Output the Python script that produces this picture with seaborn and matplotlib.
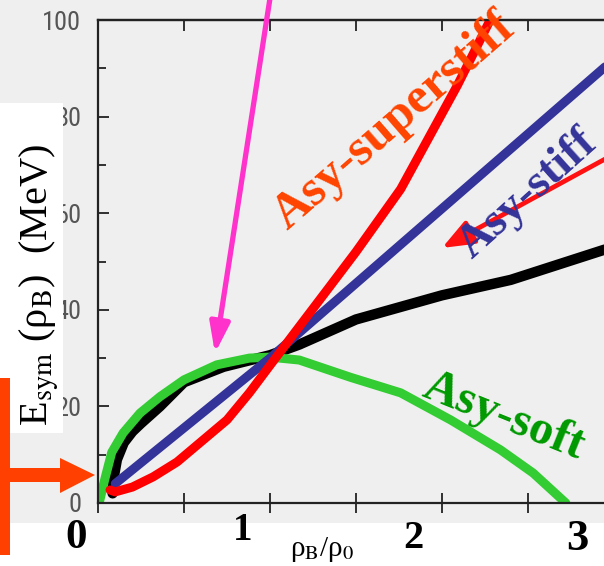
import numpy as np
import pandas as pd
import matplotlib
matplotlib.use("Agg")
import matplotlib.pyplot as plt
import seaborn as sns
from matplotlib.patches import Rectangle, Polygon
from matplotlib.ticker import MultipleLocator

# ---------------- data ----------------
rho_black = [0.085, 0.09, 0.11, 0.15, 0.20, 0.25, 0.36, 0.50, 0.73, 1.00, 1.17, 1.50, 2.00, 2.40, 2.94, 3.10]
E_black   = [2.0,   5.0,  9.0,  12.5, 14.8, 16.5, 20.0, 25.0, 28.2, 30.6, 32.8, 38.0, 43.0, 46.2, 52.4, 54.0]

rho_blue = [0.10, 1.00, 3.10]
E_blue   = [4.0,  30.0, 95.0]

rho_red = [0.07, 0.10, 0.20, 0.32, 0.46, 0.59, 0.75, 0.88, 1.00, 1.17, 1.33, 1.50, 1.76, 2.09, 2.28]
E_red   = [2.7,  2.3,  3.3,  5.4,  8.5,  12.4, 17.2, 22.8, 28.5, 36.5, 44.0, 52.0, 65.0, 86.5, 100.0]

rho_green = [0.01, 0.04, 0.08, 0.146, 0.244, 0.36, 0.50, 0.69, 0.88, 1.00, 1.17, 1.47, 1.76, 2.05, 2.34, 2.53, 2.72]
E_green   = [0.5,  5.0,  10.5, 14.5,  18.6,  22.0, 25.5, 28.6, 30.0, 30.2, 29.6, 26.0, 22.8, 17.2, 11.0, 6.2,  0.0]

ytick_values = [0, 20, 40, 60, 80, 100]
ytick_labels = ["0", "20", "40", "60", "80", "100"]
x_labels = ["0", "1", "2", "3"]
curve_labels = ["Asy-superstiff", "Asy-stiff", "Asy-soft"]

# ---------------- style ----------------
sns.set_theme(style="ticks")
plt.rcParams["font.family"] = ["Liberation Serif", "DejaVu Serif"]
plt.rcParams["mathtext.fontset"] = "stix"

BG = "#efefef"
W, H = 604, 566
fig = plt.figure(figsize=(W / 100, H / 100), dpi=100, facecolor=BG)


def fx(px):
    return px / W


def fy(py):
    return 1 - py / H


PX_PER_X = 172.0
XMAX = 3.1
ax = fig.add_axes([fx(98), fy(503), XMAX * PX_PER_X / W, 483 / H])
ax.set_facecolor(BG)

df_black = pd.DataFrame({"rho": rho_black, "E": E_black})
df_blue = pd.DataFrame({"rho": rho_blue, "E": E_blue})
df_red = pd.DataFrame({"rho": rho_red, "E": E_red})
df_green = pd.DataFrame({"rho": rho_green, "E": E_green})

common = dict(x="rho", y="E", ax=ax, estimator=None, legend=False,
              solid_joinstyle="round", solid_capstyle="round")
sns.lineplot(data=df_black, color="black", linewidth=7.5, **common)
sns.lineplot(data=df_green, color="#33cc33", linewidth=6.5, **common)
sns.lineplot(data=df_blue, color="#333399", linewidth=6.5, **common)
sns.lineplot(data=df_red, color="#ff0000", linewidth=6.5, **common)

ax.set_xlim(0, XMAX)
ax.set_ylim(0, 100)
ax.set_xlabel("")
ax.set_ylabel("")

# ticks
ax.set_xticks(np.arange(0, 3.01, 0.5))
ax.tick_params(axis="x", direction="inout", length=14, width=1.3, color="#222222",
               labelbottom=False, top=False)
sec = ax.secondary_xaxis("top")
sec.set_xticks(np.arange(0, 3.01, 0.5))
sec.tick_params(direction="in", length=8, width=1.3, color="#222222", labeltop=False)
sec.spines["top"].set_linewidth(1.6)
sec.spines["top"].set_color("#222222")

ax.set_yticks(ytick_values)
ax.set_yticklabels(ytick_labels,
                   family=["Liberation Sans Narrow", "Roboto Condensed",
                           "Open Sans Condensed", "DejaVu Sans"],
                   fontstretch="condensed", fontsize=19, color="#555555")
ax.yaxis.set_minor_locator(MultipleLocator(10))
ax.tick_params(axis="y", which="major", direction="in", length=8, width=1.3,
               color="#222222", pad=12, right=False)
ax.tick_params(axis="y", which="minor", direction="in", length=6, width=1.3,
               color="#222222", right=False)
for s in ["left", "bottom", "top"]:
    ax.spines[s].set_linewidth(1.6)
    ax.spines[s].set_color("#222222")
ax.spines["right"].set_visible(False)

# annotation arrows
ax.annotate("", xy=(0.68, 31), xytext=(1.0, 104.5), annotation_clip=False,
            arrowprops=dict(arrowstyle="-|>,head_length=1.8,head_width=0.6",
                            mutation_scale=10, color="#ff33cc", lw=3.8,
                            shrinkA=0, shrinkB=0))
ax.annotate("", xy=(2.0, 52.8), xytext=(3.035, 72.9), annotation_clip=False,
            arrowprops=dict(arrowstyle="-|>,head_length=1.9,head_width=0.75",
                            mutation_scale=10, color="#ff1111", lw=3.4,
                            shrinkA=0, shrinkB=0))

# curve labels
ax.text(1.72, 78.9, curve_labels[0], color="#ff4400", fontsize=36.5, fontweight="bold",
        rotation=41, rotation_mode="anchor", ha="center", va="center")
ax.text(2.50, 64.0, curve_labels[1], color="#333399", fontsize=34, fontweight="bold",
        rotation=42, rotation_mode="anchor", ha="center", va="center")
ax.text(2.36, 18.0, curve_labels[2], color="#009900", fontsize=35, fontweight="bold",
        rotation=-22, rotation_mode="anchor", ha="center", va="center")

# white panels over the scan
fig.add_artist(Rectangle((fx(0), fy(433)), fx(63), 330 / H, transform=fig.transFigure,
                         facecolor="white", edgecolor="none", zorder=5))
fig.add_artist(Rectangle((0, 0), 1, (H - 523) / H, transform=fig.transFigure,
                         facecolor="white", edgecolor="none", zorder=5))

# y label
fig.text(fx(48), fy(285), r"E$_\mathrm{sym}$ (ρ$_\mathrm{B}$)  (MeV)", rotation=90,
         rotation_mode="anchor", ha="center", va="baseline", fontsize=29,
         color="black", zorder=7)

# bottom labels
xl_pos = [(76, 538, 31), (243, 530, 28), (413, 539, 29), (577, 539, 32)]
for lab, (px, py, fs) in zip(x_labels, xl_pos):
    fig.text(fx(px), fy(py), lab, ha="center", va="center", fontsize=fs,
             fontweight="bold", color="black", zorder=7)
fig.text(fx(322), fy(550), r"ρ$_\mathrm{B}$/ρ$_0$", ha="center", va="center",
         fontsize=21, color="black", zorder=7)

# orange arrow at left
ORANGE = "#ff4000"
fig.add_artist(Rectangle((fx(0), fy(555)), fx(10), 177 / H, transform=fig.transFigure,
                         facecolor=ORANGE, edgecolor="none", zorder=8))
fig.add_artist(Rectangle((fx(10), fy(482)), fx(50), 14 / H, transform=fig.transFigure,
                         facecolor=ORANGE, edgecolor="none", zorder=8))
fig.add_artist(Polygon([(fx(60), fy(458)), (fx(95), fy(475)), (fx(60), fy(493))],
                       closed=True, transform=fig.transFigure,
                       facecolor=ORANGE, edgecolor="none", zorder=8))

fig.savefig("out.png", dpi=100, facecolor=BG)
